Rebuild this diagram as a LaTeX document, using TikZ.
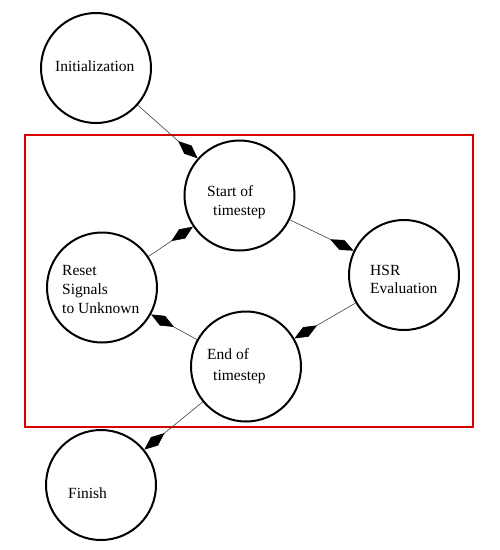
\documentclass[tikz,border=0pt]{standalone}
\usepackage{fontspec}
\setmainfont{Liberation Serif}
\usetikzlibrary{arrows.meta}
\begin{document}
\begin{tikzpicture}[x=1pt,y=-1pt,
  state/.style={circle,draw=black,line width=2pt,minimum size=110pt,inner sep=0pt},
  txt/.style={anchor=base west,inner sep=0pt,font=\fontsize{15.5}{19}\selectfont},
  conn/.style={draw=black!75,line width=0.6pt,-{Diamond[length=26pt,width=11pt,color=black,fill=black]}},
  frame/.style={draw=red!85!black,line width=1.2pt}]
\useasboundingbox (0,0) rectangle (500,550);
\node[frame,minimum width=448pt,minimum height=292pt,inner sep=0pt] (box) at (249,281) {};
\node[state] (init) at (96,68) {};
\node[state] (start) at (239.5,195.5) {};
\node[state] (hsr) at (404,275) {};
\node[state] (reset) at (102,287.5) {};
\node[state] (end) at (246,366.5) {};
\node[state] (finish) at (101,485) {};
\node[txt] (tinit) at (55,71) {Initialization};
\node[txt] (tstart1) at (207,196) {Start of};
\node[txt] (tstart2) at (213,215) {timestep};
\node[txt] (thsr1) at (370,275) {HSR};
\node[txt] (thsr2) at (370,293) {Evaluation};
\node[txt] (treset1) at (62,275) {Reset};
\node[txt] (treset2) at (62,294) {Signals};
\node[txt] (treset3) at (62,313) {to Unknown};
\node[txt] (tend1) at (207,359) {End of};
\node[txt] (tend2) at (213,380) {timestep};
\node[txt] (tfinish) at (68,498) {Finish};
\draw[conn] (init) -- (start);
\draw[conn] (start) -- (hsr);
\draw[conn] (hsr) -- (end);
\draw[conn] (end) -- (reset);
\draw[conn] (reset) -- (start);
\draw[conn] (end) -- (finish);
\end{tikzpicture}
\end{document}
